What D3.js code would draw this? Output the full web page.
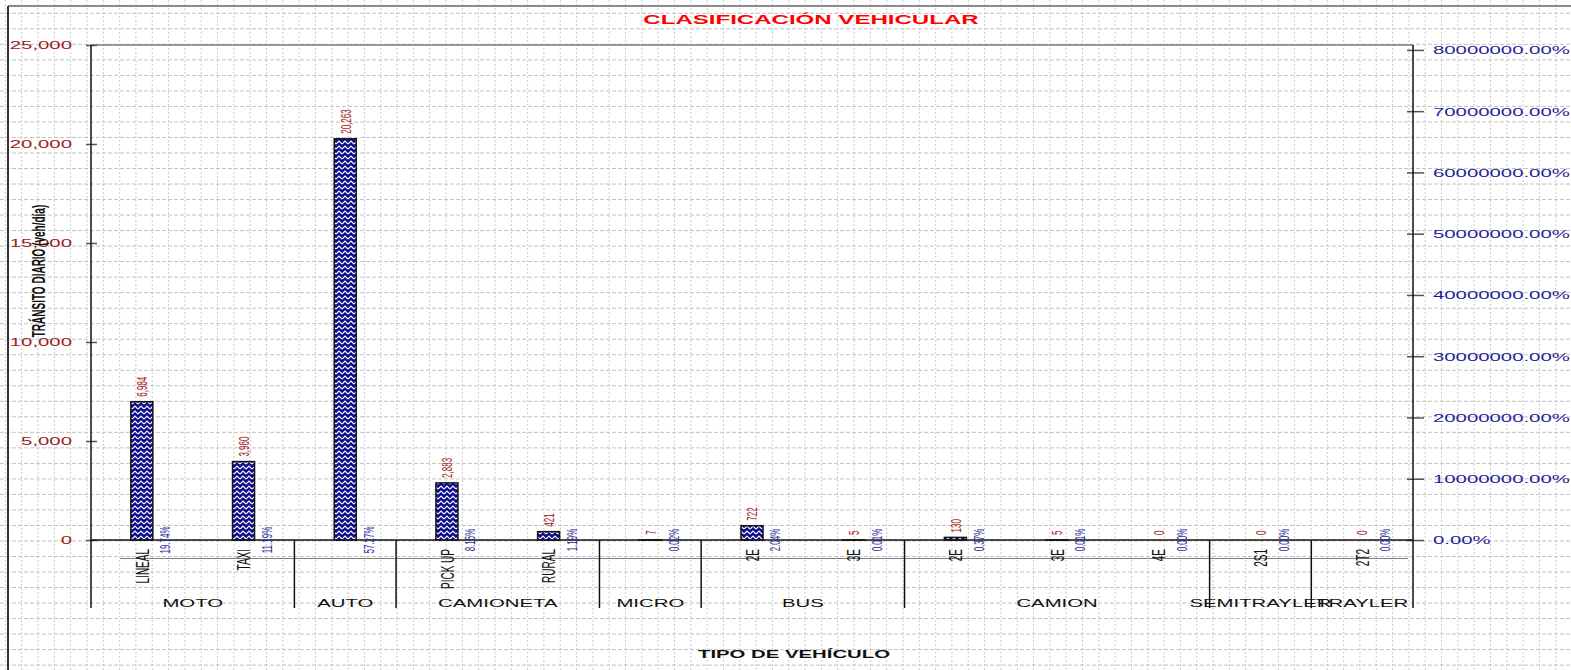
<!DOCTYPE html>
<html>
<head>
<meta charset="utf-8">
<script src="https://cdn.jsdelivr.net/npm/d3@7"></script>
<style>
  html, body { margin: 0; padding: 0; background: #ffffff; }
  svg { display: block; }
  text { font-family: Arial, "Liberation Sans", sans-serif; }
</style>
</head>
<body>
<svg id="chart" width="1571" height="670"></svg>
<script>
// ---- data ----
const subLabels   = ["LINEAL", "TAXI", "", "PICK UP", "RURAL", "", "2E", "3E", "2E", "3E", "4E", "2S1", "2T2"];
const vehicles    = [6984, 3960, 20263, 2883, 421, 7, 722, 5, 130, 5, 0, 0, 0];
const percents    = [19.74, 11.19, 57.27, 8.15, 1.19, 0.02, 2.04, 0.01, 0.37, 0.01, 0.00, 0.00, 0.00];
const groupNames  = ["MOTO", "AUTO", "CAMIONETA", "MICRO", "BUS", "CAMION", "SEMITRAYLER", "TRAYLER"];
const groupSizes  = [2, 1, 2, 1, 2, 3, 1, 1];
const leftTicks   = [0, 5000, 10000, 15000, 20000, 25000];
const rightTicks  = [0, 10000000, 20000000, 30000000, 40000000, 50000000, 60000000, 70000000, 80000000];

const W = 1571, H = 670;
const SX = 1.85;                       // horizontal stretch applied to all chart text
const plot = { left: 91, right: 1413, top: 45, bottom: 540 };
const catBottom = 608;

const svg = d3.select("#chart");

// ---- sheet grid behind the chart ----
const grid = svg.append("g").attr("class", "sheet-grid");
const colW = 16.32, rowH = 15.52;
for (let x = 21.7 - colW; x < W; x += colW) {
  grid.append("line").attr("x1", x).attr("x2", x).attr("y1", 0).attr("y2", H)
    .attr("stroke", "#cccccc").attr("stroke-width", 1).attr("stroke-dasharray", "2,2");
}
for (let y = 13.3 - rowH; y < H; y += rowH) {
  grid.append("line").attr("x1", 0).attr("x2", W).attr("y1", y).attr("y2", y)
    .attr("stroke", "#c2c2c2").attr("stroke-width", 1).attr("stroke-dasharray", "4,2");
}

// chart frame edges
svg.append("line").attr("x1", 8).attr("x2", W).attr("y1", 6).attr("y2", 6)
  .attr("stroke", "#8a8a8a").attr("stroke-width", 2);
svg.append("line").attr("x1", 8).attr("x2", 8).attr("y1", 6).attr("y2", H)
  .attr("stroke", "#333").attr("stroke-width", 2);

// ---- bar fill pattern ----
const defs = svg.append("defs");
const pat = defs.append("pattern").attr("id", "zigzag")
  .attr("patternUnits", "userSpaceOnUse").attr("width", 6).attr("height", 5);
pat.append("rect").attr("width", 6).attr("height", 5).attr("fill", "#0a0a8c");
pat.append("polyline").attr("points", "0,4 3,1 6,4")
  .attr("fill", "none").attr("stroke", "#ffffff").attr("stroke-width", 1.2);

// ---- scales ----
const x = d3.scaleBand().domain(d3.range(vehicles.length))
  .range([plot.left, plot.right]).padding(0);
const y = d3.scaleLinear().domain([0, 25000]).range([plot.bottom, plot.top]);
const yR = d3.scaleLinear().domain([0, 80800000]).range([plot.bottom, plot.top]);

// plot top border
svg.append("line").attr("x1", plot.left).attr("x2", plot.right)
  .attr("y1", plot.top).attr("y2", plot.top)
  .attr("stroke", "#7a7a7a").attr("stroke-width", 1.5);

// ---- title ----
svg.append("text")
  .attr("transform", `translate(811,24) scale(${SX},1)`)
  .attr("text-anchor", "middle").attr("font-size", 13).attr("font-weight", "bold")
  .attr("fill", "#ff0000").text("CLASIFICACIÓN VEHICULAR");

// ---- left axis ----
const gL = svg.append("g").attr("transform", `translate(${plot.left},0)`)
  .call(d3.axisLeft(y).tickValues(leftTicks).tickFormat(d3.format(",")).tickSize(5).tickSizeOuter(0));
gL.select(".domain").remove();
gL.selectAll(".tick line").attr("x1", -5).attr("x2", 6).attr("stroke", "#555").attr("stroke-width", 1.5);
gL.selectAll(".tick text")
  .attr("x", null).attr("dy", "0.36em")
  .attr("transform", `translate(-19,0) scale(${SX},1)`)
  .attr("text-anchor", "end").attr("font-size", 11).attr("fill", "#9b1c1c");
svg.append("line").attr("x1", plot.left).attr("x2", plot.left)
  .attr("y1", plot.top).attr("y2", catBottom).attr("stroke", "#111").attr("stroke-width", 1.5);

// ---- right axis ----
const gR = svg.append("g").attr("transform", `translate(${plot.right},0)`)
  .call(d3.axisRight(yR).tickValues(rightTicks)
    .tickFormat(d => d3.format(".2f")(d) + "%").tickSize(10).tickSizeOuter(0));
gR.select(".domain").remove();
gR.selectAll(".tick line").attr("x1", -6).attr("x2", 11).attr("stroke", "#555").attr("stroke-width", 1.5);
gR.selectAll(".tick text")
  .attr("x", null).attr("dy", "0.36em")
  .attr("transform", `translate(20,0) scale(${SX},1)`)
  .attr("text-anchor", "start").attr("font-size", 11).attr("fill", "#1f1f9a");
svg.append("line").attr("x1", plot.right).attr("x2", plot.right)
  .attr("y1", plot.top).attr("y2", catBottom).attr("stroke", "#111").attr("stroke-width", 1.5);

// ---- category axis ----
svg.append("line").attr("x1", plot.left).attr("x2", plot.right)
  .attr("y1", plot.bottom).attr("y2", plot.bottom).attr("stroke", "#111").attr("stroke-width", 1.5);
svg.append("line").attr("x1", 120).attr("x2", 1408)
  .attr("y1", 558.5).attr("y2", 558.5).attr("stroke", "#808080").attr("stroke-width", 1);

let start = 0;
groupNames.forEach((name, i) => {
  const x0 = x(start), x1 = x(start + groupSizes[i] - 1) + x.bandwidth();
  if (start > 0) {
    svg.append("line").attr("x1", x0).attr("x2", x0)
      .attr("y1", plot.bottom).attr("y2", catBottom).attr("stroke", "#111").attr("stroke-width", 1.5);
  }
  svg.append("text")
    .attr("transform", `translate(${(x0 + x1) / 2},607) scale(${SX},1)`)
    .attr("text-anchor", "middle").attr("font-size", 11).attr("fill", "#111").text(name);
  start += groupSizes[i];
});

// sub-category labels
svg.append("g").selectAll("text").data(subLabels).join("text")
  .attr("transform", (d, i) => `translate(${x(i) + x.bandwidth() / 2},549) scale(${SX},1) rotate(-90)`)
  .attr("dy", "0.36em").attr("text-anchor", "end").attr("font-size", 10).attr("fill", "#111")
  .text(d => d);

// ---- bars ----
const barW = 22;
const cx = i => x(i) + x.bandwidth() / 2;
svg.append("g").selectAll("rect").data(vehicles).join("rect")
  .attr("x", (d, i) => cx(i) - barW / 2)
  .attr("y", d => y(d))
  .attr("width", barW)
  .attr("height", d => y(0) - y(d))
  .attr("fill", "url(#zigzag)")
  .attr("stroke", d => d > 0 ? "#111" : "none")
  .attr("stroke-width", 1.5);

// secondary-axis series (percentage share)
svg.append("g").selectAll("rect").data(percents).join("rect")
  .attr("x", (d, i) => cx(i) + barW / 2 + 1)
  .attr("y", d => yR(d))
  .attr("width", barW)
  .attr("height", d => yR(0) - yR(d))
  .attr("fill", "#2b2b9b");

// value labels
svg.append("g").selectAll("text").data(vehicles).join("text")
  .attr("transform", (d, i) => `translate(${cx(i)},${y(d) - 5}) scale(${SX},1) rotate(-90)`)
  .attr("dy", "0.36em").attr("text-anchor", "start").attr("font-size", 8).attr("fill", "#a52020")
  .text(d => d3.format(",")(d));

svg.append("g").selectAll("text").data(percents).join("text")
  .attr("transform", (d, i) => `translate(${cx(i) + 23},${yR(d)}) scale(${SX},1) rotate(-90)`)
  .attr("dy", "0.36em").attr("text-anchor", "middle").attr("font-size", 8).attr("fill", "#2b2b9b")
  .text(d => d3.format(".2f")(d) + "%");

// ---- axis titles ----
svg.append("text")
  .attr("transform", `translate(38,271) scale(${SX},1) rotate(-90)`)
  .attr("dy", "0.36em").attr("text-anchor", "middle").attr("font-size", 10).attr("font-weight", "bold")
  .attr("fill", "#111").text("TRÁNSITO DIARIO (veh/día)");

svg.append("text")
  .attr("transform", `translate(794,658) scale(${SX},1)`)
  .attr("text-anchor", "middle").attr("font-size", 11).attr("font-weight", "bold")
  .attr("fill", "#111").text("TIPO DE VEHÍCULO");
</script>
</body>
</html>
